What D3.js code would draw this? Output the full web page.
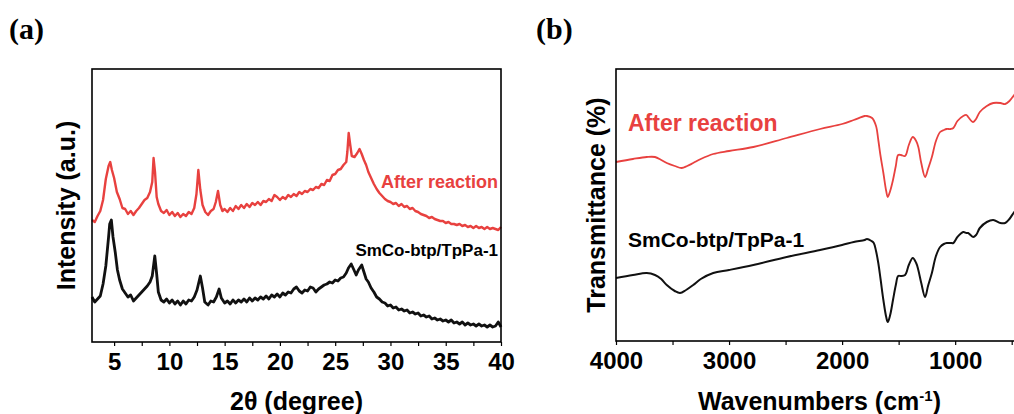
<!DOCTYPE html>
<html>
<head>
<meta charset="utf-8">
<script src="https://cdn.jsdelivr.net/npm/d3@7"></script>
<style>
  html, body { margin: 0; padding: 0; background: #fff; }
  svg { display: block; }
  text { font-family: "Liberation Sans", Arial, sans-serif; font-weight: bold; }
</style>
</head>
<body>
<svg id="chart" width="1014" height="414"></svg>
<script>
// ---------------- DATA ----------------
// (a) XRD: [2θ (degree), intensity (a.u.)]
const xrdAfterReaction = [
[3.00,122],[3.25,120],[3.50,126],[3.75,131],[4.00,142],[4.25,163],[4.50,176],[4.65,180],[4.80,172],[5.00,164],
[5.25,150],[5.50,143],[5.75,134],[6.00,133],[6.25,128],[6.50,131],[6.75,127],[7.00,131],[7.25,134],[7.50,138],
[7.75,142],[8.00,144],[8.25,150],[8.45,160],[8.57,184],[8.70,170],[8.85,145],[9.00,138],[9.25,131],[9.50,129],
[9.75,132],[10.00,127],[10.25,130],[10.50,126],[10.75,129],[11.00,125],[11.25,128],[11.50,126],[11.75,130],[12.00,128],
[12.25,134],[12.45,148],[12.62,172],[12.80,152],[13.00,137],[13.25,130],[13.50,127],[13.75,131],[14.00,133],[14.20,140],
[14.40,151],[14.60,137],[14.80,131],[15.00,133],[15.25,130],[15.50,134],[15.75,131],[16.00,136],[16.25,133],[16.50,137],
[16.75,134],[17.00,138],[17.25,135],[17.50,139],[17.75,137],[18.00,140],[18.25,137],[18.50,141],[18.75,140],[19.00,143],
[19.25,141],[19.50,147],[19.75,145],[20.00,142],[20.25,145],[20.50,143],[20.75,147],[21.00,145],[21.25,148],[21.50,146],
[21.75,150],[22.00,148],[22.25,151],[22.50,150],[22.75,153],[23.00,152],[23.25,155],[23.50,154],[23.75,158],[24.00,157],
[24.25,162],[24.50,161],[24.75,167],[25.00,168],[25.25,172],[25.50,173],[25.75,177],[26.00,180],[26.10,190],[26.22,209],
[26.35,198],[26.50,186],[26.75,185],[27.00,189],[27.20,193],[27.40,188],[27.60,182],[27.80,177],[28.00,170],[28.25,164],
[28.50,158],[28.75,153],[29.00,149],[29.25,146],[29.50,143],[29.75,141],[30.00,140],[30.25,138],[30.50,139],[30.75,136],
[31.00,138],[31.25,135],[31.50,136],[31.75,133],[32.00,134],[32.25,131],[32.50,130],[32.75,128],[33.00,127],[33.25,126],
[33.50,124],[33.75,125],[34.00,123],[34.25,122],[34.50,121],[34.75,121],[35.00,119],[35.25,120],[35.50,118],[35.75,118],
[36.00,117],[36.25,118],[36.50,116],[36.75,117],[37.00,115],[37.25,116],[37.50,114],[37.75,116],[38.00,114],[38.25,115],
[38.50,113],[38.75,115],[39.00,113],[39.25,114],[39.50,113],[39.75,112],[40.00,115]
];
const xrdSmCo = [
[3.00,45],[3.25,40],[3.50,43],[3.75,46],[4.00,58],[4.25,76],[4.50,105],[4.60,118],[4.75,122],[4.90,105],
[5.10,90],[5.30,72],[5.50,62],[5.75,53],[6.00,49],[6.25,45],[6.50,47],[6.75,41],[7.00,44],[7.25,47],
[7.50,50],[7.75,53],[8.00,56],[8.25,60],[8.45,66],[8.68,86],[8.85,68],[9.00,50],[9.25,42],[9.50,40],
[9.75,43],[10.00,39],[10.25,42],[10.50,38],[10.75,41],[11.00,37],[11.25,41],[11.50,38],[11.75,42],[12.00,41],
[12.25,45],[12.50,52],[12.80,66],[13.00,54],[13.20,40],[13.50,37],[13.75,41],[14.00,40],[14.25,45],[14.50,53],
[14.70,44],[15.00,39],[15.25,41],[15.50,38],[15.75,42],[16.00,39],[16.25,42],[16.50,40],[16.75,43],[17.00,40],
[17.25,44],[17.50,41],[17.75,44],[18.00,42],[18.25,45],[18.50,43],[18.75,46],[19.00,43],[19.25,47],[19.50,45],
[19.75,48],[20.00,45],[20.25,49],[20.50,47],[20.75,50],[21.00,49],[21.25,53],[21.50,55],[21.75,51],[22.00,49],
[22.25,52],[22.50,51],[22.75,55],[23.00,54],[23.25,50],[23.50,53],[23.75,55],[24.00,57],[24.25,58],[24.50,60],
[24.75,59],[25.00,62],[25.25,61],[25.50,64],[25.75,65],[26.00,69],[26.20,74],[26.45,78],[26.70,72],[26.90,67],
[27.10,72],[27.40,77],[27.60,70],[27.80,63],[28.00,60],[28.25,54],[28.50,50],[28.75,45],[29.00,43],[29.25,40],
[29.50,39],[29.75,36],[30.00,37],[30.25,34],[30.50,35],[30.75,32],[31.00,33],[31.25,31],[31.50,32],[31.75,29],
[32.00,30],[32.25,28],[32.50,29],[32.75,26],[33.00,27],[33.25,25],[33.50,26],[33.75,23],[34.00,24],[34.25,22],
[34.50,23],[34.75,21],[35.00,22],[35.25,20],[35.50,22],[35.75,19],[36.00,20],[36.25,18],[36.50,20],[36.75,17],
[37.00,19],[37.25,17],[37.50,18],[37.75,16],[38.00,18],[38.25,16],[38.50,17],[38.75,15],[39.00,17],[39.25,15],
[39.50,16],[39.75,20],[40.00,15]
];
const xrdTicks = [5, 10, 15, 20, 25, 30, 35, 40];
const xrdMinorTicks = [7.5, 12.5, 17.5, 22.5, 27.5, 32.5, 37.5];

// (b) FTIR: [wavenumber (cm-1), transmittance (a.u.)]
const ftirAfterReaction = [
[4000,179],[3850,182],[3728,184],[3655,184],[3600,181],[3551,178],[3480,175],[3419,173],[3370,175],[3317,178],
[3250,182],[3140,187],[3000,190],[2785,194],[2490,203],[2195,212],[2000,217],[1897,221],[1800,225],[1780,225],
[1735,223],[1700,215],[1680,201],[1660,185],[1635,168],[1610,150],[1596,144],[1575,150],[1550,161],[1525,175],
[1504,186],[1480,186],[1443,185],[1410,196],[1375,204],[1345,200],[1326,194],[1300,178],[1266,164],[1240,172],
[1206,184],[1170,200],[1133,209],[1100,211],[1074,212],[1040,212],[1016,213],[980,220],[929,225],[900,226],
[885,224],[841,219],[815,222],[782,229],[720,235],[663,238],[600,238],[558,237],[520,240],[478,246],[430,252],[400,255]
];
const ftirSmCo = [
[4000,63],[3850,66],[3728,68],[3655,66],[3600,62],[3551,56],[3480,50],[3434,48],[3380,51],[3317,56],
[3250,62],[3140,68],[3000,71],[2785,76],[2490,84],[2195,91],[2000,96],[1897,99],[1800,101],[1780,102],
[1740,100],[1720,98],[1700,90],[1680,78],[1660,62],[1635,41],[1610,24],[1596,19],[1575,26],[1550,41],
[1525,56],[1504,65],[1480,65],[1443,66],[1410,76],[1375,83],[1345,78],[1326,71],[1300,58],[1266,44],
[1240,55],[1206,68],[1170,85],[1133,94],[1100,97],[1074,98],[1040,98],[1016,98],[980,104],[929,109],
[900,108],[885,108],[841,104],[815,106],[782,113],[720,119],[663,121],[600,118],[558,118],[520,122],[478,129],[430,135],[400,138]
];
const ftirTicks = [4000, 3000, 2000, 1000];
const ftirMinorTicks = [3500, 2500, 1500, 500];

const RED = "#e8413f";
const BLACK = "#111111";

// ---------------- DRAW ----------------
const svg = d3.select("#chart");
svg.append("rect").attr("width", 1014).attr("height", 414).attr("fill", "#fff");

function panel(opts) {
  const g = svg.append("g");
  const {left, right, top, bottom} = opts.box;
  const x = d3.scaleLinear().domain(opts.xDomain).range([left, right]);
  const y = d3.scaleLinear().domain(opts.yDomain).range([bottom, top]);

  // minor ticks
  g.append("g").attr("transform", `translate(0,${bottom})`)
    .call(d3.axisBottom(x).tickValues(opts.minor).tickSize(4).tickFormat(""))
    .call(a => a.select(".domain").remove())
    .call(a => a.selectAll("line").attr("stroke", "#000").attr("stroke-width", 1.2));
  // major ticks
  g.append("g").attr("transform", `translate(0,${bottom})`)
    .call(d3.axisBottom(x).tickValues(opts.major).tickSize(4).tickPadding(7).tickFormat(d3.format("d")))
    .call(a => a.select(".domain").remove())
    .call(a => a.selectAll("line").attr("stroke", "#000").attr("stroke-width", 1.2))
    .call(a => a.selectAll("text").attr("fill", "#000")
      .style("font-family", '"Liberation Sans", Arial, sans-serif')
      .style("font-weight", "bold").style("font-size", "24px"));

  const line = d3.line().x(d => x(d[0])).y(d => y(d[1])).curve(opts.curve);
  opts.series.forEach(s => {
    g.append("path").datum(s.data)
      .attr("fill", "none").attr("stroke", s.color)
      .attr("stroke-width", s.width).attr("stroke-linejoin", "round")
      .attr("d", line);
  });

  // frame
  g.append("rect").attr("x", left).attr("y", top)
    .attr("width", right - left).attr("height", bottom - top)
    .attr("fill", "none").attr("stroke", "#000").attr("stroke-width", 1.6);

  // axis titles
  g.append("text").attr("x", (left + right) / 2).attr("y", 410)
    .attr("text-anchor", "middle").style("font-size", "25px").attr("fill", "#000")
    .call(opts.xTitle);
  g.append("text")
    .attr("transform", `translate(${opts.yTitleX},${(top + bottom) / 2}) rotate(-90)`)
    .attr("text-anchor", "middle").style("font-size", "25px").attr("fill", "#000")
    .text(opts.yTitle);

  // panel letter
  g.append("text").attr("x", opts.letterX).attr("y", 39)
    .style("font-family", '"Liberation Serif", "Times New Roman", serif')
    .style("font-size", "30px").attr("fill", "#000").text(opts.letter);

  // series labels
  opts.labels.forEach(l => {
    g.append("text").attr("x", l.x).attr("y", l.y).attr("text-anchor", l.anchor)
      .style("font-size", l.size + "px").attr("fill", l.color).text(l.text);
  });
}

panel({
  box: {left: 92, right: 501, top: 69, bottom: 342},
  xDomain: [3, 40], yDomain: [0, 273],
  major: xrdTicks, minor: xrdMinorTicks,
  curve: d3.curveLinear,
  series: [
    {data: xrdAfterReaction, color: RED, width: 2.4},
    {data: xrdSmCo, color: BLACK, width: 2.8}
  ],
  xTitle: t => t.text("2θ (degree)"),
  yTitle: "Intensity (a.u.)", yTitleX: 75,
  letter: "(a)", letterX: 9,
  labels: [
    {text: "After reaction", x: 498, y: 188, anchor: "end", size: 18, color: RED},
    {text: "SmCo-btp/TpPa-1", x: 498, y: 256, anchor: "end", size: 17, color: "#000"}
  ]
});

panel({
  box: {left: 616, right: 1023, top: 69, bottom: 341},
  xDomain: [4000, 400], yDomain: [0, 272],
  major: ftirTicks, minor: ftirMinorTicks,
  curve: d3.curveCatmullRom.alpha(0.5),
  series: [
    {data: ftirAfterReaction, color: RED, width: 1.8},
    {data: ftirSmCo, color: BLACK, width: 2}
  ],
  xTitle: t => {
    t.append("tspan").text("Wavenumbers (cm");
    t.append("tspan").attr("dy", -9).style("font-size", "15px").text("-1");
    t.append("tspan").attr("dy", 9).text(")");
  },
  yTitle: "Transmittance (%)", yTitleX: 605,
  letter: "(b)", letterX: 536,
  labels: [
    {text: "After reaction", x: 628, y: 131, anchor: "start", size: 23, color: RED},
    {text: "SmCo-btp/TpPa-1", x: 628, y: 247, anchor: "start", size: 21, color: "#000"}
  ]
});
</script>
</body>
</html>
